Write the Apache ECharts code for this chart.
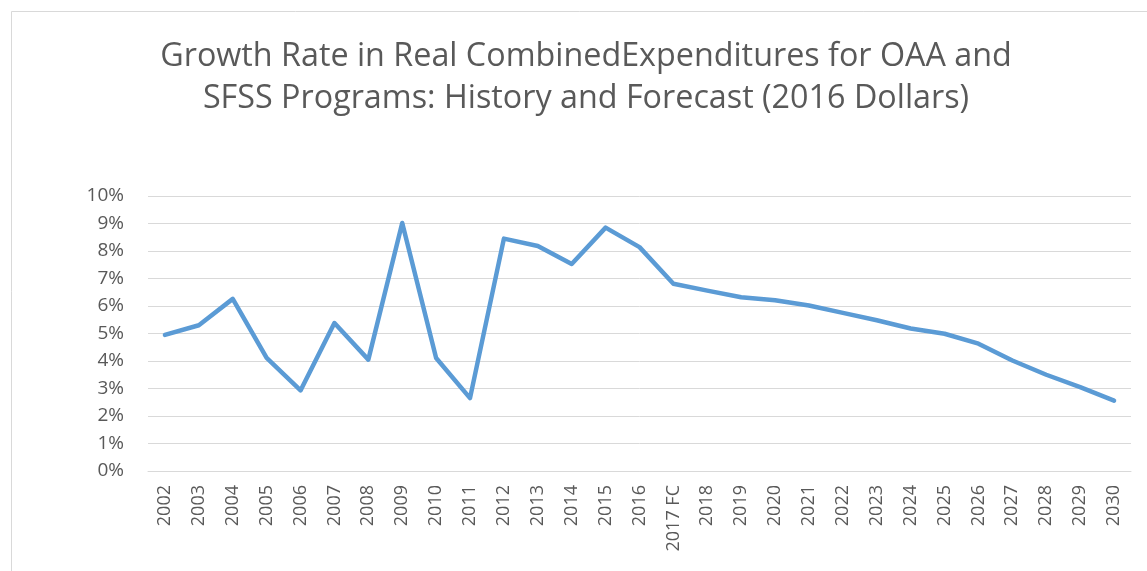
<!DOCTYPE html>
<html>
<head>
<meta charset="utf-8">
<script src="https://cdn.jsdelivr.net/npm/echarts@6/dist/echarts.min.js"></script>
<style>
html,body{margin:0;padding:0;background:#fff;}
#chart{width:1147px;height:571px;}
</style>
</head>
<body>
<div id="chart"></div>
<script>
const categories = ['2002','2003','2004','2005','2006','2007','2008','2009','2010','2011','2012','2013','2014','2015','2016','2017 FC','2018','2019','2020','2021','2022','2023','2024','2025','2026','2027','2028','2029','2030'];
const growthRate = [4.95,5.30,6.26,4.11,2.93,5.38,4.05,9.02,4.11,2.65,8.45,8.18,7.53,8.85,8.14,6.81,6.56,6.32,6.21,6.02,5.75,5.48,5.18,4.99,4.63,4.02,3.50,3.05,2.56];
const yTicks = [0,1,2,3,4,5,6,7,8,9,10];
const titleText = 'Growth Rate in Real CombinedExpenditures for OAA and\nSFSS Programs: History and Forecast (2016 Dollars)';

const chart = echarts.init(document.getElementById('chart'), null, {renderer:'canvas'});
chart.setOption({
  backgroundColor:'#ffffff',
  animation:false,
  title:{
    text:titleText,
    left:581,
    textAlign:'center',
    top:26,
    padding:[10,5,5,5],
    textStyle:{fontFamily:'Open Sans',fontSize:32.3,fontWeight:'normal',color:'#595959',lineHeight:42}
  },
  graphic:[{
    type:'rect',
    shape:{x:11.5,y:11.5,width:1200,height:700},
    style:{fill:'none',stroke:'#d9d9d9',lineWidth:1},
    silent:true
  }],
  grid:{left:148,right:16,top:196,bottom:100,containLabel:false},
  xAxis:{
    type:'category',
    data:categories,
    boundaryGap:true,
    axisLine:{show:true,lineStyle:{color:'#d9d9d9',width:1}},
    axisTick:{show:false},
    axisLabel:{rotate:90,interval:0,margin:14,fontFamily:'Open Sans',fontSize:18,color:'#595959'}
  },
  yAxis:{
    type:'value',
    min:yTicks[0],
    max:yTicks[yTicks.length-1],
    interval:1,
    axisLine:{show:false},
    axisTick:{show:false},
    splitLine:{lineStyle:{color:'#d9d9d9',width:1}},
    axisLabel:{formatter:v=>v+'%',margin:24,fontFamily:'Open Sans',fontSize:19,color:'#595959'}
  },
  series:[{
    type:'line',
    data:growthRate,
    symbol:'none',
    lineStyle:{color:'#5b9bd5',width:4.5,join:'round',cap:'round'},
    itemStyle:{color:'#5b9bd5'}
  }]
});
</script>
</body>
</html>
